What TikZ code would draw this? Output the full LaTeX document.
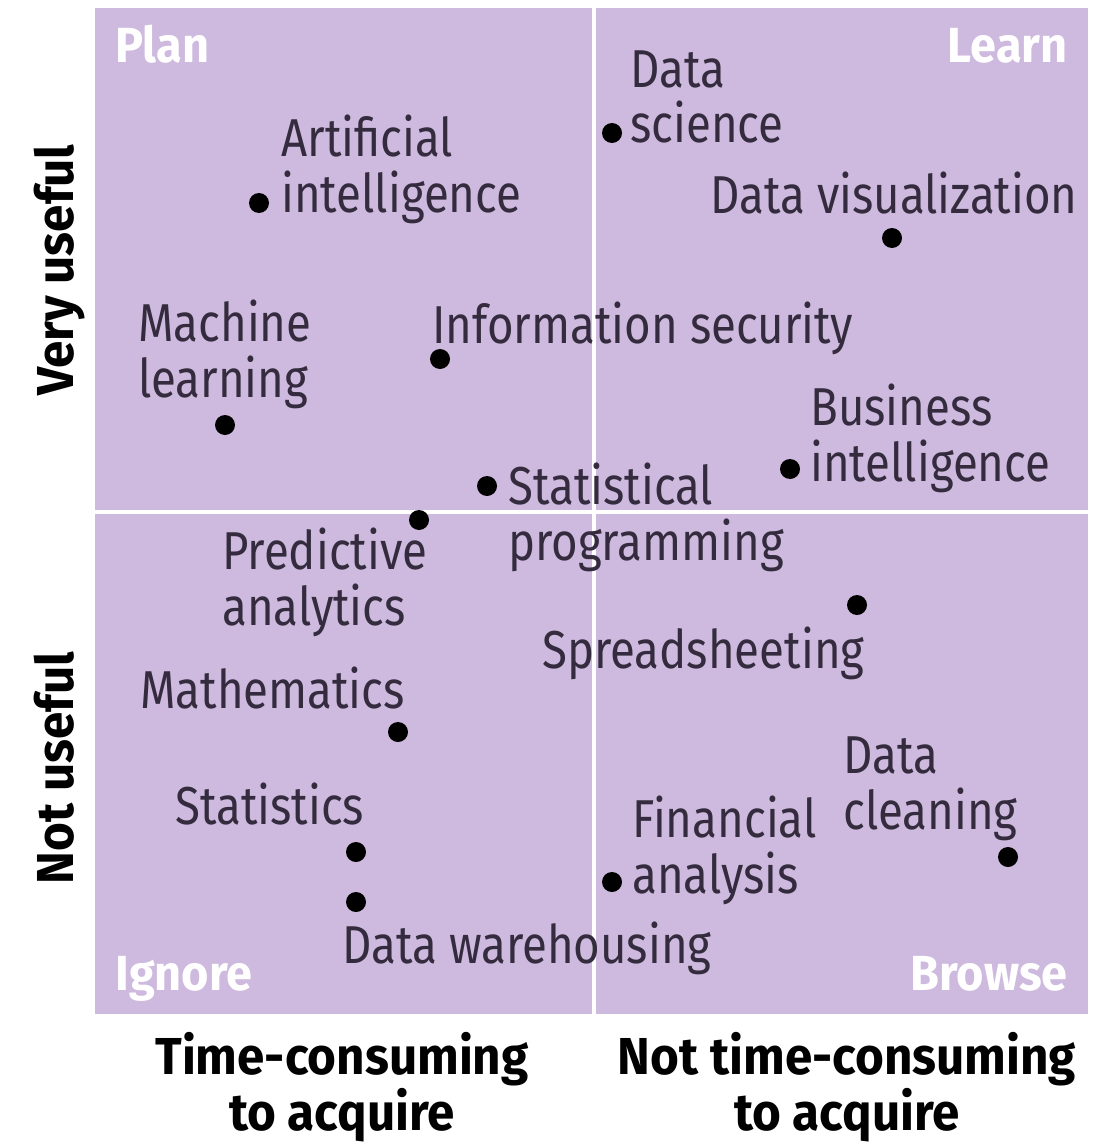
\documentclass[tikz,border=0pt]{standalone}
\usepackage{fontspec}
\setmainfont[FakeStretch=0.855]{Fira Sans}
\newfontfamily\boldfam[FakeStretch=0.95]{Fira Sans}
\definecolor{quad}{RGB}{206,186,222}
\definecolor{txt}{RGB}{52,44,62}
\tikzset{
  lbl/.style={font=\fontsize{40}{41.5}\selectfont, text=txt, inner sep=0pt, align=left, anchor=base west},
  dot/.style={circle, fill=black, minimum size=15pt, inner sep=0pt},
  quadlbl/.style={font=\boldfam\fontsize{37}{38}\selectfont\bfseries, text=white, inner sep=0pt},
  axislbl/.style={font=\boldfam\fontsize{39}{36}\selectfont\bfseries, text=black, inner sep=0pt, align=center},
}
\begin{document}
\begin{tikzpicture}[x=0.75pt,y=-0.75pt]
\useasboundingbox (0,0) rectangle (1096,1145);
\fill[quad] (95,8) rectangle (1088,1014);
\draw[white, line width=3.5pt] (594,8) -- (594,1014);
\draw[white, line width=3.5pt] (95,512) -- (1088,512);

% quadrant labels
\node[quadlbl, anchor=base west] (plan) at (115,63) {Plan};
\node[quadlbl, anchor=base east] (learn) at (1068,63) {Learn};
\node[quadlbl, anchor=base west] (ignore) at (115,990) {Ignore};
\node[quadlbl, anchor=base east] (browse) at (1068,990) {Browse};

% items (base anchor of a two-line node = baseline of its last line)
\node[dot] (ai) at (259,203) {};
\node[lbl] (ait) at (281,212) {Artificial\\intelligence};
\node[dot] (ds) at (612,133) {};
\node[lbl] (dst) at (630,143) {Data\\science};
\node[dot] (dv) at (892,238) {};
\node[lbl] (dvt) at (710,214) {Data visualization};
\node[dot] (ml) at (225,425) {};
\node[lbl] (mlt) at (138,397) {Machine\\learning};
\node[dot] (is) at (440,359) {};
\node[lbl] (ist) at (432,343) {Information security};
\node[dot] (bi) at (790,469) {};
\node[lbl] (bit) at (810,481) {Business\\intelligence};
\node[dot] (sp) at (487,486) {};
\node[lbl] (spt) at (508,560) {Statistical\\programming};
\node[dot] (pa) at (419,520) {};
\node[lbl] (pat) at (222,625) {Predictive\\analytics};
\node[dot] (ss) at (857,605) {};
\node[lbl] (sst) at (542,668) {Spreadsheeting};
\node[dot] (ma) at (398,732) {};
\node[lbl] (mat) at (140,708) {Mathematics};
\node[dot] (st) at (356,852) {};
\node[lbl] (stt) at (175,824) {Statistics};
\node[dot] (dw) at (356,902) {};
\node[lbl] (dwt) at (342,963) {Data warehousing};
\node[dot] (dc) at (1008,857) {};
\node[lbl] (dct) at (843,829) {Data\\cleaning};
\node[dot] (fa) at (612,882) {};
\node[lbl] (fat) at (632,893) {Financial\\analysis};

% axis labels
\node[axislbl, rotate=90, anchor=base] (vu) at (73,270) {Very useful};
\node[axislbl, rotate=90, anchor=base] (nu) at (73,768) {Not useful};
\node[axislbl, anchor=base] (tc) at (342,1130) {Time-consuming\\to acquire};
\node[axislbl, anchor=base] (ntc) at (847,1130) {Not time-consuming\\to acquire};
\end{tikzpicture}
\end{document}
